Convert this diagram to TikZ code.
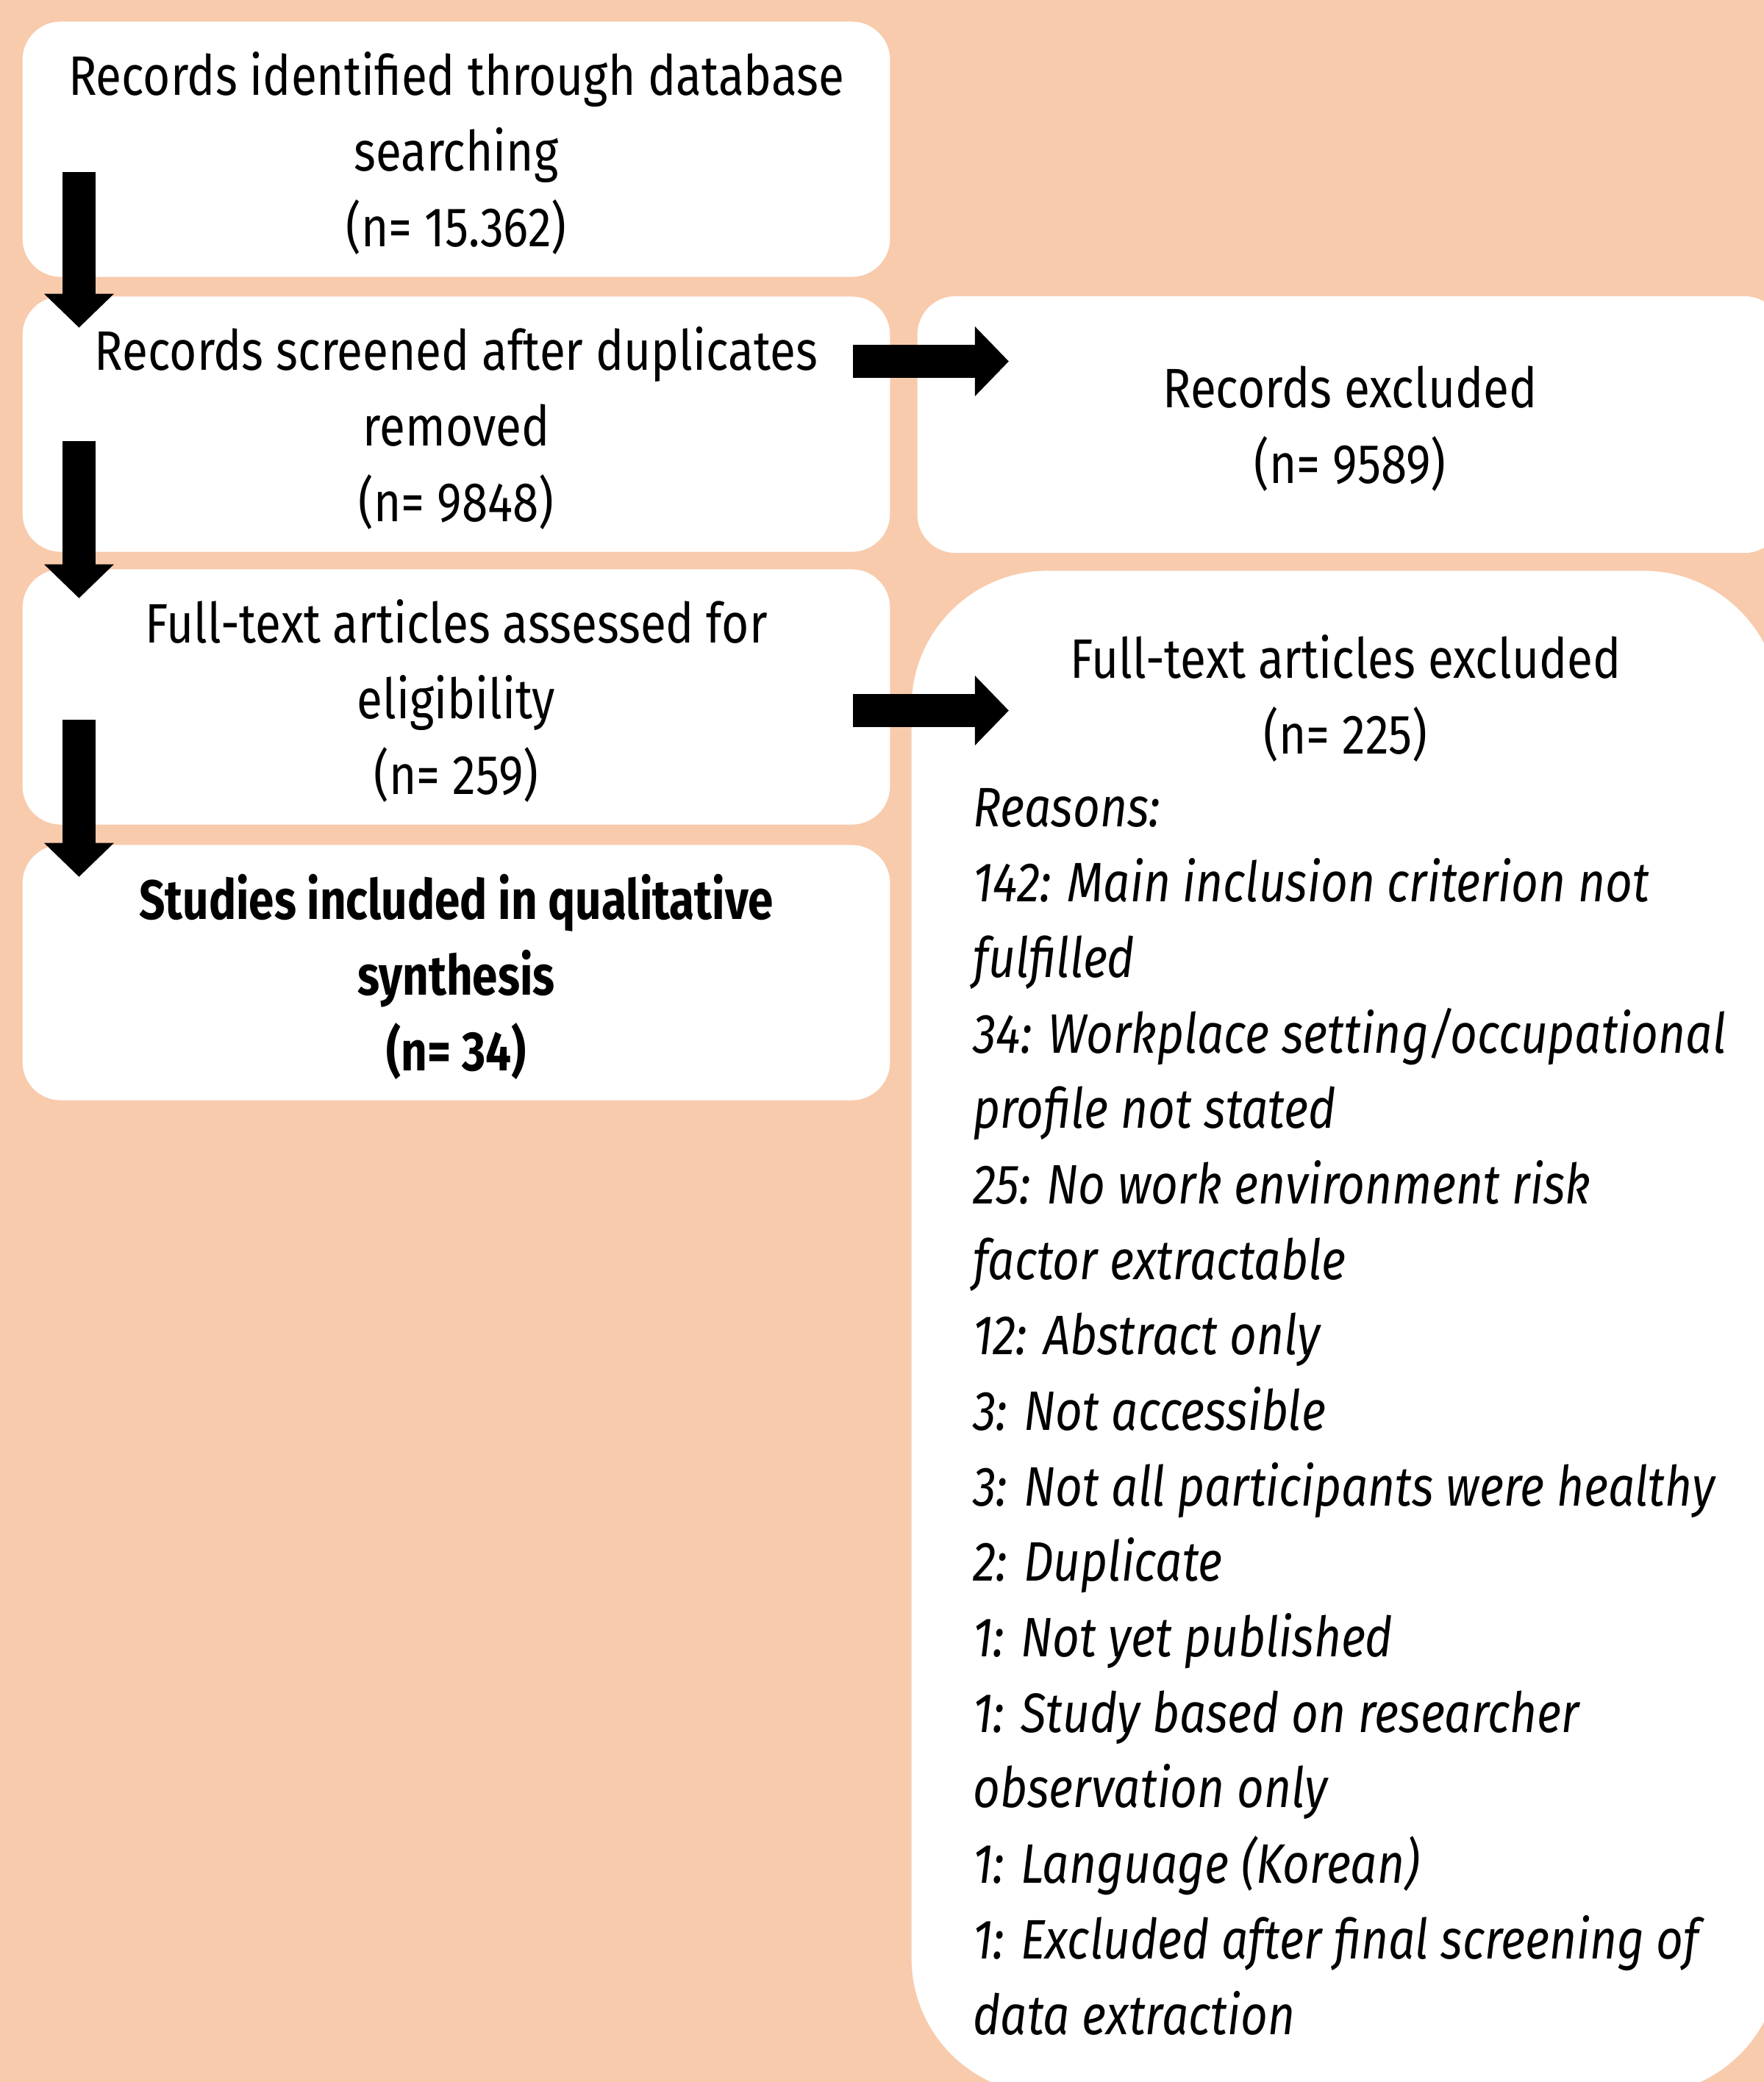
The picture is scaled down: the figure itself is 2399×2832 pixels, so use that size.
\documentclass[tikz,border=0pt]{standalone}
\usepackage{fontspec}
\setmainfont{Fira Sans}[FakeStretch=0.845, BoldFeatures={FakeStretch=0.82}]
\usetikzlibrary{arrows.meta}
\definecolor{peach}{HTML}{F8CBAD}

\begin{document}
\begin{tikzpicture}[x=0.01cm, y=-0.01cm,
  txt/.style={font=\fontsize{21.5}{29.2}\selectfont},
  box/.style={txt, fill=white, rounded corners=0.52cm, inner sep=0pt, align=center,
    text depth=0pt, minimum width=11.79cm, minimum height=3.47cm},
  bigbox/.style={fill=white, rounded corners=1.85cm, inner sep=0pt,
    minimum width=11.8cm, minimum height=20.71cm},
  fatarrow/.style={line width=0.45cm, -{Triangle[length=0.46cm, width=0.92cm]}}]
\useasboundingbox (0,0) rectangle (2399,2832);
\clip (0,0) rectangle (2399,2832);
\fill[peach] (0,0) rectangle (2399,2832);

\node[box] (b1) at (620.5,203) {Records identified through database\\searching\\(n= 15.362)};
\node[box] (b2) at (620.5,577) {Records screened after duplicates\\removed\\(n= 9848)};
\node[box] (b3) at (620.5,948) {Full-text articles assessed for\\eligibility\\(n= 259)};
\node[box, font=\fontsize{21.5}{29.2}\selectfont\bfseries] (b4) at (620.5,1323) {Studies included in qualitative\\synthesis\\(n= 34)};

\node[box, minimum width=11.76cm, minimum height=3.49cm] (r1) at (1836,577.5) {Records excluded\\(n= 9589)};
\node[bigbox] (r2) at (1830,1812.5) {};
\node[txt, align=center, anchor=base] (r2head) at (1830,1025) {Full-text articles excluded\\(n= 225)};
\node[txt, align=left, anchor=base west, font=\fontsize{21.5}{29.2}\selectfont\itshape] (reasons) at (1311,2767) {Reasons:\\
142: Main inclusion criterion not\\
fulfilled\\
34: Workplace setting/occupational\\
profile not stated\\
25: No work environment risk\\
factor extractable\\
12: Abstract only\\
3: Not accessible\\
3: Not all participants were healthy\\
2: Duplicate\\
1: Not yet published\\
1: Study based on researcher\\
observation only\\
1: Language (Korean)\\
1: Excluded after final screening of\\
data extraction};

\draw[fatarrow] ([shift={(77.5,-143)}]b1.south west) -- ([shift={(77.5,43)}]b2.north west);
\draw[fatarrow] ([shift={(77.5,-151)}]b2.south west) -- ([shift={(77.5,40)}]b3.north west);
\draw[fatarrow] ([shift={(77.5,-143)}]b3.south west) -- ([shift={(77.5,44)}]b4.north west);

\draw[fatarrow] ([shift={(-51,-85.5)}]b2.east) -- ([shift={(125,-86)}]r1.west);
\draw[fatarrow] ([shift={(-51,18.5)}]b3.east) -- ([shift={(133,-846)}]r2.west);
\end{tikzpicture}
\end{document}
